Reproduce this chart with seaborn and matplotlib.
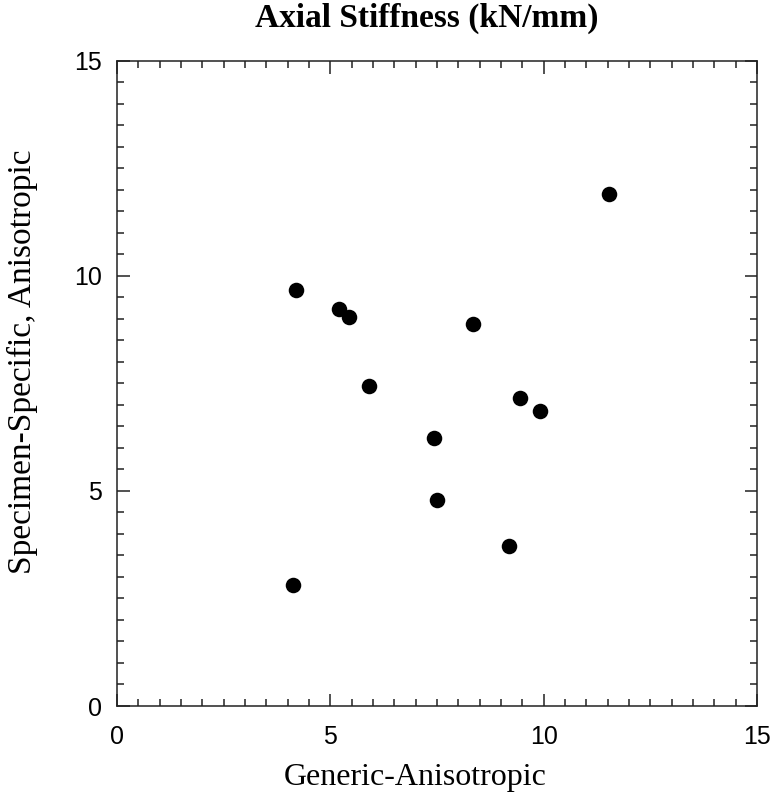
import numpy as np
import pandas as pd
import matplotlib
matplotlib.use("Agg")
import matplotlib.pyplot as plt
from matplotlib.ticker import MultipleLocator
import seaborn as sns

# values
generic_aniso = [4.19, 5.21, 5.44, 8.34, 5.90, 7.44, 7.50, 4.13, 9.19, 11.53, 9.44, 9.91]
specimen_aniso = [9.67, 9.23, 9.04, 8.88, 7.43, 6.24, 4.79, 2.81, 3.73, 11.91, 7.17, 6.86]
major_ticks = [0, 5, 10, 15]

df = pd.DataFrame({"Generic": generic_aniso, "Specimen": specimen_aniso})

sns.set_style("ticks")
plt.rcParams["font.family"] = ["Liberation Sans", "DejaVu Sans"]

fig = plt.figure(figsize=(7.72, 8), dpi=100)
ax = fig.add_axes([0.1516, 0.1175, 0.8290, 0.8063])

sns.scatterplot(data=df, x="Generic", y="Specimen", ax=ax, color="black",
                s=125, edgecolor="black", linewidth=0, legend=False)

ax.set_xlim(0, 15)
ax.set_ylim(0, 15)
ax.set_xticks(major_ticks)
ax.set_yticks(major_ticks)
ax.xaxis.set_minor_locator(MultipleLocator(0.5))
ax.yaxis.set_minor_locator(MultipleLocator(0.5))
ax.tick_params(which="both", direction="in", top=True, right=True,
               color="#222222", width=1.1, labelcolor="black")
ax.tick_params(which="major", length=9, labelsize=18)
ax.tick_params(axis="x", which="major", pad=14)
ax.tick_params(axis="y", which="major", pad=11)
ax.tick_params(which="minor", length=5)
for sp in ax.spines.values():
    sp.set_color("#222222")
    sp.set_linewidth(1.1)
ax.set_xlabel("")
ax.set_ylabel("")

serif = ["Liberation Serif", "DejaVu Serif"]
fig.text(427 / 772, 1 - 18 / 800, "Axial Stiffness (kN/mm)", ha="center", va="center",
         fontsize=24, fontweight="bold", family=serif, color="black")
fig.text(415 / 772, 1 - 778 / 800, "Generic-Anisotropic", ha="center", va="center",
         fontsize=23, family=serif, color="black")
fig.text(22 / 772, 1 - 362 / 800, "Specimen-Specific, Anisotropic", ha="center", va="center",
         rotation=90, fontsize=24, family=serif, color="black")

fig.savefig("out.png", dpi=100, facecolor="white")
